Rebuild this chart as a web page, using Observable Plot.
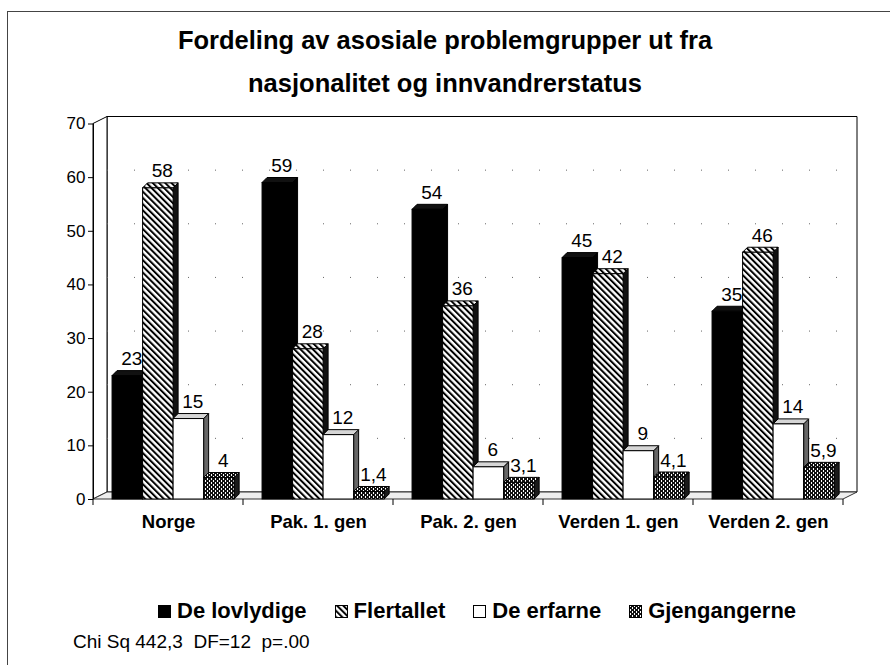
<!DOCTYPE html>
<html>
<head>
<meta charset="utf-8">
<script src="https://cdn.jsdelivr.net/npm/d3@7"></script>
<script src="https://cdn.jsdelivr.net/npm/@observablehq/plot@0.6"></script>
<style>
html, body { margin: 0; padding: 0; background: #fff; }
body { width: 890px; height: 665px; position: relative; overflow: hidden; font-family: "Liberation Sans", Arial, sans-serif; color: #000; }
#frame { position: absolute; left: 7px; top: 11px; width: 900px; height: 700px; border: 1px solid #444; box-sizing: border-box; }
#title { position: absolute; left: 0; top: 18.5px; width: 890px; text-align: center; font-weight: bold; font-size: 25.5px; line-height: 43.5px; }
#chart { position: absolute; left: 0; top: 100px; }
#legend { position: absolute; left: 158px; top: 598px; display: flex; align-items: center; font-weight: bold; font-size: 22px; line-height: 26px; white-space: nowrap; }
#legend .item { display: flex; align-items: center; margin-right: 28px; }
#legend .item svg { margin-right: 6px; display: block; }
#caption { position: absolute; left: 73px; top: 631px; font-size: 19px; line-height: 22px; white-space: pre; }
#chart g[aria-label^="x-axis"] text { font-weight: bold !important; font-size: 18.5px !important; }
#chart g[aria-label^="y-axis"] text { font-size: 17px !important; }
</style>
</head>
<body>
<svg width="0" height="0" style="position:absolute">
  <defs>
    <pattern id="hatch" patternUnits="userSpaceOnUse" width="4.4" height="10" patternTransform="rotate(-45)">
      <rect x="0" y="0" width="4.4" height="10" fill="#fff"></rect>
      <rect x="0" y="0" width="2" height="10" fill="#000"></rect>
    </pattern>
    <pattern id="grid" patternUnits="userSpaceOnUse" width="4" height="4">
      <rect x="0" y="0" width="4" height="4" fill="#111"></rect>
      <rect x="1" y="0" width="1" height="2" fill="#fff"></rect>
      <rect x="3" y="2" width="1" height="2" fill="#fff"></rect>
    </pattern>
  </defs>
</svg>
<div id="frame"></div>
<div id="title">Fordeling av asosiale problemgrupper ut fra<br>nasjonalitet og innvandrerstatus</div>
<div id="chart"></div>
<div id="legend"></div>
<div id="caption"></div>
<script>
// ---- data ----
const categories = ["Norge", "Pak. 1. gen", "Pak. 2. gen", "Verden 1. gen", "Verden 2. gen"];
const seriesNames = ["De lovlydige", "Flertallet", "De erfarne", "Gjengangerne"];
const deLovlydige = [23, 59, 54, 45, 35];
const flertallet = [58, 28, 36, 42, 46];
const deErfarne = [15, 12, 6, 9, 14];
const gjengangerne = [4, 1.4, 3.1, 4.1, 5.9];
const yTicks = [0, 10, 20, 30, 40, 50, 60, 70];
const captionText = "Chi Sq 442,3  DF=12  p=.00";

// ---- styles / layout constants ----
const frontFill = ["#000", "url(#hatch)", "#fff", "url(#grid)"];
const topFill = ["#111", "url(#hatch)", "#d6d6d6", "url(#grid)"];
const sideFill = ["#000", "#111", "#666", "#1a1a1a"];
const GROUP_PAD = 0.127;  // fraction of a category band before the first bar
const BAR_W = 0.2035;     // fraction of a category band per bar
const BAR_DEPTH = [5, -5];
const WALL_DEPTH = [14, -7];

const valuesBySeries = [deLovlydige, flertallet, deErfarne, gjengangerne];
const rows = categories.flatMap((c, ci) =>
  seriesNames.map((s, si) => ({category: c, ci, series: s, si, value: valuesBySeries[si][ci]})));
const bx1 = d => d.ci + GROUP_PAD + d.si * BAR_W;
const bx2 = d => bx1(d) + BAR_W;
const fmt = v => String(v).replace(".", ",");

// 3D walls, floor and dotted grid, placed with the plot's scales
function walls(index, scales) {
  const {x, y} = scales;
  const [wx, wy] = WALL_DEPTH;
  const X0 = x(0), X1 = x(categories.length), Y0 = y(0), Yt = y(yTicks[yTicks.length - 1]);
  const g = d3.create("svg:g").attr("stroke", "#000").attr("stroke-width", 1);
  g.append("path").attr("fill", "#fff")
    .attr("d", `M${X0 + wx},${Y0 + wy}V${Yt + wy}H${X1 + wx}V${Y0 + wy}Z`);
  g.append("path").attr("fill", "#fff")
    .attr("d", `M${X0},${Y0}V${Yt}L${X0 + wx},${Yt + wy}V${Y0 + wy}Z`);
  g.append("path").attr("fill", "#eee").attr("stroke", "#333")
    .attr("d", `M${X0},${Y0}H${X1}L${X1 + wx},${Y0 + wy}H${X0 + wx}Z`);
  for (const t of yTicks.slice(1, -1)) {
    g.append("line").attr("stroke", "#666").attr("stroke-dasharray", "1 26")
      .attr("x1", X0 + wx).attr("x2", X1 + wx).attr("y1", y(t) + wy).attr("y2", y(t) + wy);
  }
  for (let i = 0; i <= categories.length; i++) {
    g.append("line").attr("x1", x(i)).attr("x2", x(i)).attr("y1", Y0).attr("y2", Y0 + 6);
  }
  return g.node();
}

// 3D top and side faces of each bar, from the plot's scales
function faces(index, scales) {
  const {x, y} = scales;
  const [bx, by] = BAR_DEPTH;
  const g = d3.create("svg:g").attr("stroke", "#000").attr("stroke-width", 1);
  for (const d of rows) {
    const x1 = x(bx1(d)), x2 = x(bx2(d)), yv = y(d.value), y0 = y(0);
    g.append("path").attr("fill", sideFill[d.si])
      .attr("d", `M${x2},${yv}L${x2 + bx},${yv + by}L${x2 + bx},${y0 + by}L${x2},${y0}Z`);
    g.append("path").attr("fill", topFill[d.si])
      .attr("d", `M${x1},${yv}L${x1 + bx},${yv + by}L${x2 + bx},${yv + by}L${x2},${yv}Z`);
  }
  return g.node();
}

const chart = Plot.plot({
  width: 890,
  height: 440,
  marginLeft: 93,
  marginRight: 47,
  marginTop: 23.5,
  marginBottom: 41,
  style: {fontFamily: '"Liberation Sans", Arial, sans-serif', fontSize: "17px", color: "#000", background: "transparent", overflow: "visible"},
  x: {type: "linear", domain: [0, categories.length], ticks: categories.map((_, i) => i + 0.5),
      tickFormat: v => categories[Math.floor(v)], tickSize: 0, tickPadding: 15, label: null},
  y: {domain: [0, 70], ticks: yTicks, tickSize: 5, tickPadding: 3, label: null},
  color: {type: "ordinal", domain: seriesNames, range: frontFill},
  marks: [
    walls,
    faces,
    Plot.rect(rows, {x1: bx1, x2: bx2, y1: 0, y2: "value", fill: "series", stroke: "#000", strokeWidth: 1}),
    Plot.ruleX([0], {y1: 0, y2: 70, stroke: "#000"}),
    Plot.text(rows, {x: d => (bx1(d) + bx2(d)) / 2, y: "value", text: d => fmt(d.value), dx: 4, dy: -17, fontSize: 19, fill: "#000"})
  ]
});
document.getElementById("chart").appendChild(chart);

// legend
const legend = document.getElementById("legend");
seriesNames.forEach((s, i) => {
  const item = document.createElement("div");
  item.className = "item";
  item.innerHTML = `<svg width="13" height="13"><rect x="0.5" y="0.5" width="12" height="12" fill="${frontFill[i]}" stroke="#000"></rect></svg><span>${s}</span>`;
  legend.appendChild(item);
});
document.getElementById("caption").textContent = captionText;
</script>
</body>
</html>
